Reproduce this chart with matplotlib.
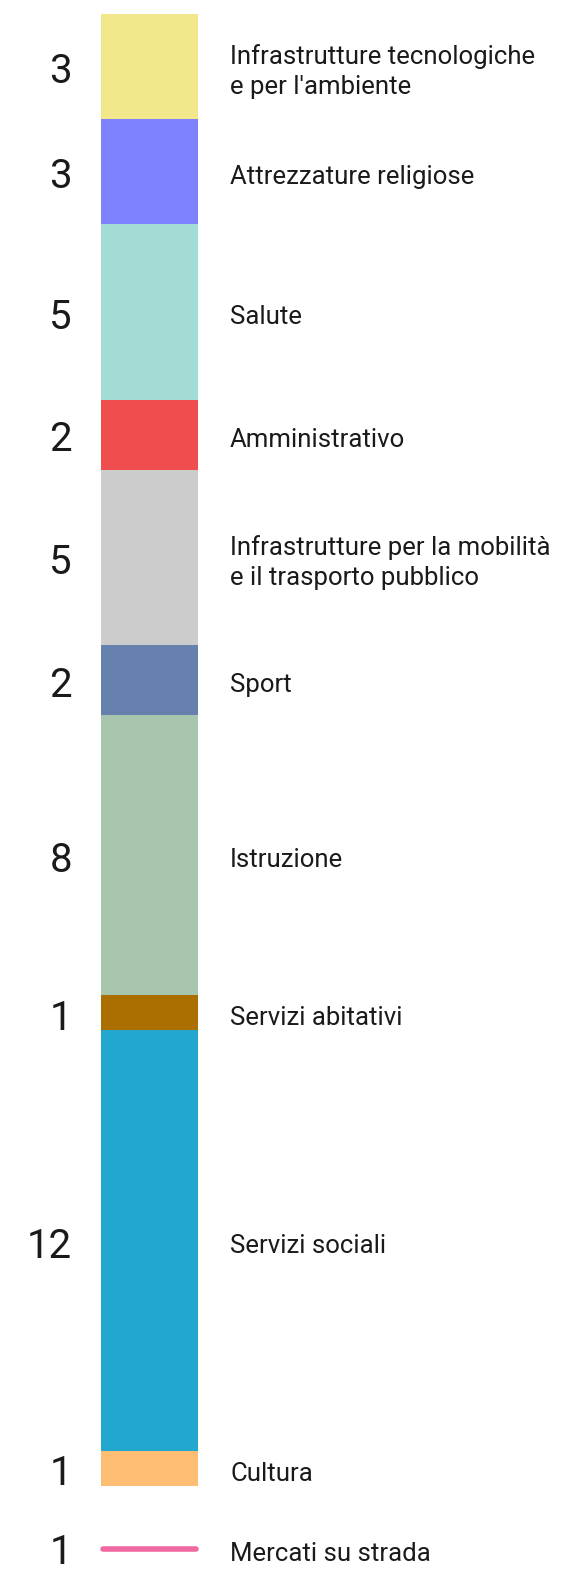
import matplotlib
matplotlib.use('agg')
import numpy as np
from matplotlib import pyplot as plt

plt.rcParams['font.family'] = ['Roboto', 'DejaVu Sans']

# categories from top to bottom of the stacked bar
labels = ["Infrastrutture tecnologiche\ne per l'ambiente",
          "Attrezzature religiose",
          "Salute",
          "Amministrativo",
          "Infrastrutture per la mobilità\ne il trasporto pubblico",
          "Sport",
          "Istruzione",
          "Servizi abitativi",
          "Servizi sociali",
          "Cultura"]
values = [3, 3, 5, 2, 5, 2, 8, 1, 12, 1]
colors = ['#F3E78C', '#7F82FE', '#A2DCD4', '#F04D4F', '#CCCCCC',
          '#6781AF', '#A7C6AD', '#AA6F00', '#22A7CF', '#FDBE73']

# the extra item drawn as a line below the bar
line_label = "Mercati su strada"
line_value = 1
line_color = '#F069A1'

text_color = '#1a1a1a'

fig = plt.figure(figsize=(5.65, 15.69), dpi=100)
ax = fig.add_axes([0, 0, 1, 1])

total = sum(values)
px = 35.05  # pixels per unit
ax.set_xlim(0, 565)
ax.set_ylim((1569 - 14) / px, -14 / px)
ax.axis('off')

bottoms = np.cumsum([0] + values[:-1])
bar_x, bar_w = 149.5, 97
ax.bar([bar_x] * len(values), values, bottom=bottoms, width=bar_w,
       color=colors, linewidth=0)

dy = 0.15  # text sits a little below the segment centre
for b, v, lab in zip(bottoms, values, labels):
    yc = b + v / 2 + dy
    ax.text(72, yc, str(v), ha='right', va='center', fontsize=29,
            color=text_color)
    ax.text(230, yc, lab, ha='left', va='center', fontsize=18.5,
            color=text_color, linespacing=1.3)

y_line = total + 1.8
ax.plot([bar_x - bar_w / 2 + 2, bar_x + bar_w / 2 - 2], [y_line, y_line],
        color=line_color, linewidth=4, solid_capstyle='round')
ax.text(72, y_line + 0.1, str(line_value), ha='right', va='center',
        fontsize=29, color=text_color)
ax.text(230, y_line + dy, line_label, ha='left', va='center', fontsize=18.5,
        color=text_color)

fig.savefig('out.png', dpi=100)
